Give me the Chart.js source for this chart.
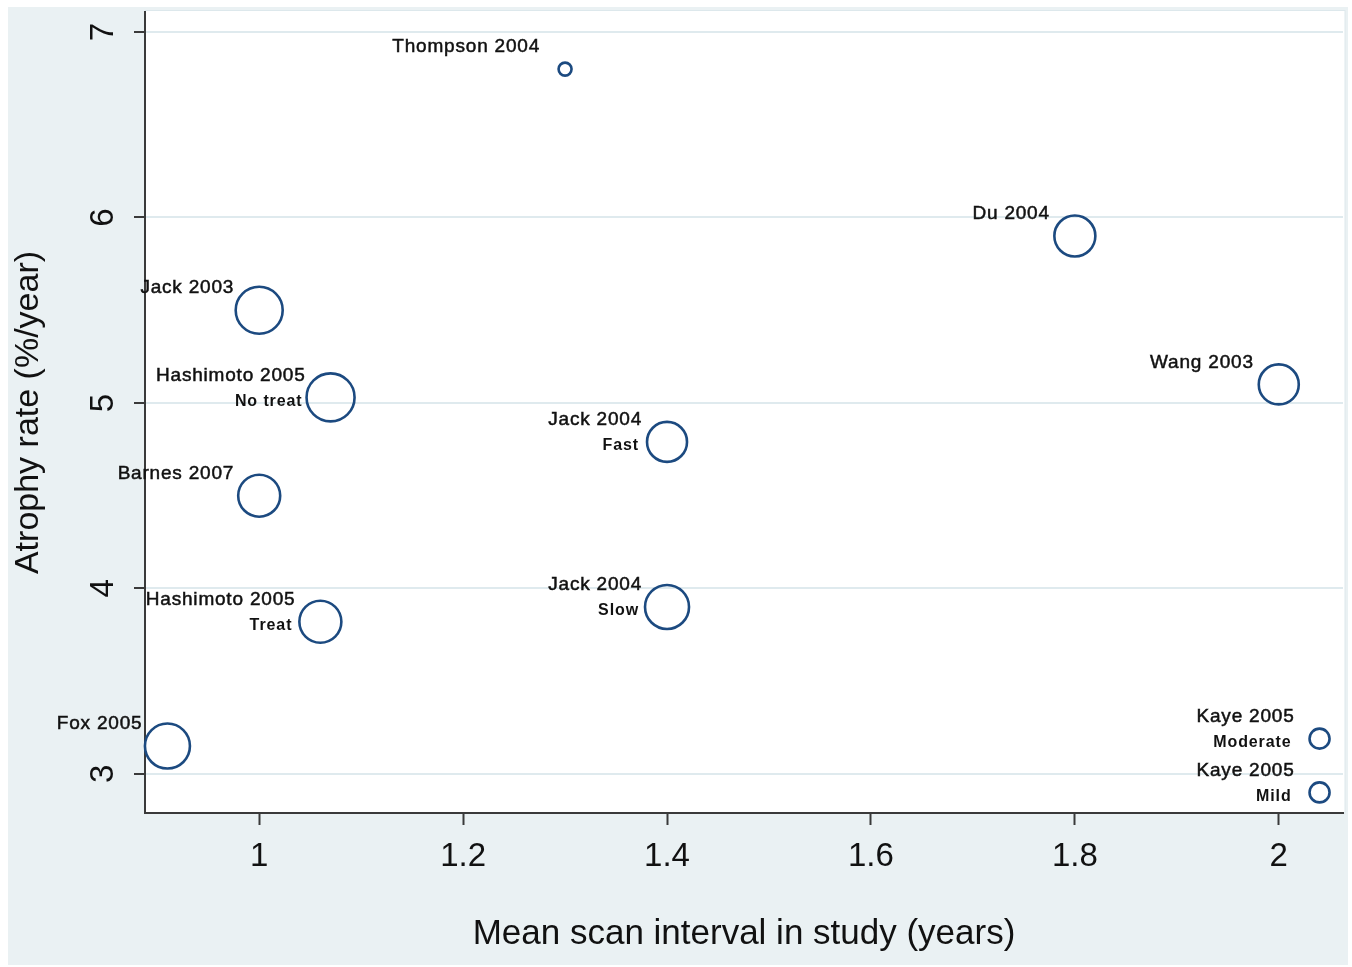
<!DOCTYPE html>
<html>
<head>
<meta charset="utf-8">
<title>Atrophy rate vs scan interval</title>
<script src="https://cdn.jsdelivr.net/npm/chart.js@4"></script>
<style>
    body {
        margin: 0;
        background: #ffffff;
    }
    #wrap {
        position: absolute;
        left: 8px;
        top: 7px;
        width: 1340px;
        height: 958px;
        background: #eaf1f3;
    }
</style>
</head>
<body>
<div id="wrap"><canvas id="scatter"></canvas></div>
<script>
// Study labels (first line) and subgroup labels (second line)
const studies = ['Thompson 2004', 'Du 2004', 'Jack 2003', 'Hashimoto 2005', 'Wang 2003', 'Jack 2004',
    'Barnes 2007', 'Jack 2004', 'Hashimoto 2005', 'Fox 2005', 'Kaye 2005', 'Kaye 2005'];
const subgroups = ['', '', '', 'No treat', '', 'Fast', '', 'Slow', 'Treat', '', 'Moderate', 'Mild'];

// Mean scan interval (years) and atrophy rate (%/year)
const scanInterval = [1.3, 1.8, 1.0, 1.07, 2.0, 1.4, 1.0, 1.4, 1.06, 0.91, 2.04, 2.04];
const atrophyRate = [6.8, 5.9, 5.5, 5.03, 5.1, 4.79, 4.5, 3.9, 3.82, 3.15, 3.19, 2.9];

// Marker weight (bubble radius)
const studyWeight = [6.5, 20.5, 23.5, 24, 20, 20, 21, 22, 21, 22.5, 10, 10];

// Tick labels
const xTicks = [1, 1.2, 1.4, 1.6, 1.8, 2];
const yTicks = [3, 4, 5, 6, 7];

const points = scanInterval.map((x, i) => ({ x: x, y: atrophyRate[i], r: studyWeight[i] }));

const axisColor = '#3a3a3a';
const gridColor = '#dfeaee';
const fontFamily = '"Liberation Sans", Arial, sans-serif';

// White plot region
const plotBackground = {
    id: 'plotBackground',
    beforeDraw(chart) {
        const { ctx, chartArea } = chart;
        ctx.save();
        ctx.fillStyle = '#ffffff';
        ctx.fillRect(chartArea.left, chartArea.top - 2, chartArea.right - chartArea.left + 2, chartArea.bottom - chartArea.top + 2);
        ctx.strokeStyle = '#dde8ec';
        ctx.lineWidth = 1;
        ctx.strokeRect(chartArea.left + 0.5, chartArea.top - 1.5, chartArea.right - chartArea.left + 1.5, chartArea.bottom - chartArea.top + 1.5);
        ctx.restore();
    }
};

// Marker labels, up and left of each circle
const markerLabels = {
    id: 'markerLabels',
    afterDatasetsDraw(chart) {
        const { ctx } = chart;
        const meta = chart.getDatasetMeta(0);
        ctx.save();
        ctx.fillStyle = '#111111';
        ctx.strokeStyle = '#111111';
        ctx.lineWidth = 0.5;
        ctx.textAlign = 'right';
        ctx.textBaseline = 'middle';
        meta.data.forEach((pt, i) => {
            ctx.font = '19px ' + fontFamily;
            ctx.letterSpacing = '0.8px';
            ctx.fillText(studies[i], pt.x - 25, pt.y - 22);
            ctx.strokeText(studies[i], pt.x - 25, pt.y - 22);
            if (subgroups[i]) {
                ctx.font = 'bold 16px ' + fontFamily;
                ctx.letterSpacing = '0.9px';
                ctx.fillText(subgroups[i], pt.x - 28, pt.y + 4);
            }
        });
        ctx.restore();
    }
};

const ctx = document.getElementById('scatter').getContext('2d');
new Chart(ctx, {
    type: 'bubble',
    data: {
        datasets: [{
            data: points,
            backgroundColor: 'transparent',
            borderColor: '#1c4a80',
            borderWidth: 2.6,
            hoverBorderWidth: 2.6,
            clip: false
        }]
    },
    options: {
        responsive: true,
        maintainAspectRatio: false,
        animation: false,
        events: [],
        layout: {
            autoPadding: false,
            padding: { left: 0, right: 5, top: 5, bottom: 0 }
        },
        plugins: {
            legend: { display: false },
            tooltip: { enabled: false }
        },
        scales: {
            x: {
                type: 'linear',
                min: 0.888,
                max: 2.063,
                afterBuildTicks: scale => { scale.ticks = xTicks.map(v => ({ value: v })); },
                afterFit: scale => {
                    scale.height = 152;
                    scale.paddingLeft = 0;
                    scale.paddingRight = 0;
                },
                grid: {
                    drawOnChartArea: false,
                    tickColor: axisColor,
                    tickLength: 12,
                    tickWidth: 2
                },
                border: { color: axisColor, width: 2 },
                ticks: {
                    color: '#111111',
                    padding: 15,
                    font: { family: fontFamily, size: 33, lineHeight: 1 },
                    callback: v => String(v)
                },
                title: {
                    display: true,
                    text: 'Mean scan interval in study (years)',
                    color: '#111111',
                    padding: { top: 0, bottom: 13 },
                    font: { family: fontFamily, size: 35, lineHeight: 1 }
                }
            },
            y: {
                type: 'linear',
                min: 2.789,
                max: 7.108,
                afterBuildTicks: scale => { scale.ticks = yTicks.map(v => ({ value: v })); },
                afterFit: scale => {
                    scale.width = 137;
                    scale.paddingTop = 0;
                    scale.paddingBottom = 0;
                },
                grid: {
                    color: gridColor,
                    lineWidth: 2,
                    tickColor: axisColor,
                    tickLength: 11,
                    tickWidth: 2
                },
                border: { color: axisColor, width: 2 },
                ticks: {
                    color: '#111111',
                    padding: 21,
                    minRotation: 90,
                    maxRotation: 90,
                    crossAlign: 'center',
                    font: { family: fontFamily, size: 33, lineHeight: 1 },
                    callback: v => String(v)
                },
                title: {
                    display: true,
                    text: 'Atrophy rate (%/year)',
                    color: '#111111',
                    padding: { top: 4, bottom: 0 },
                    font: { family: fontFamily, size: 34, lineHeight: 1 }
                }
            }
        }
    },
    plugins: [plotBackground, markerLabels]
});
</script>
</body>
</html>
